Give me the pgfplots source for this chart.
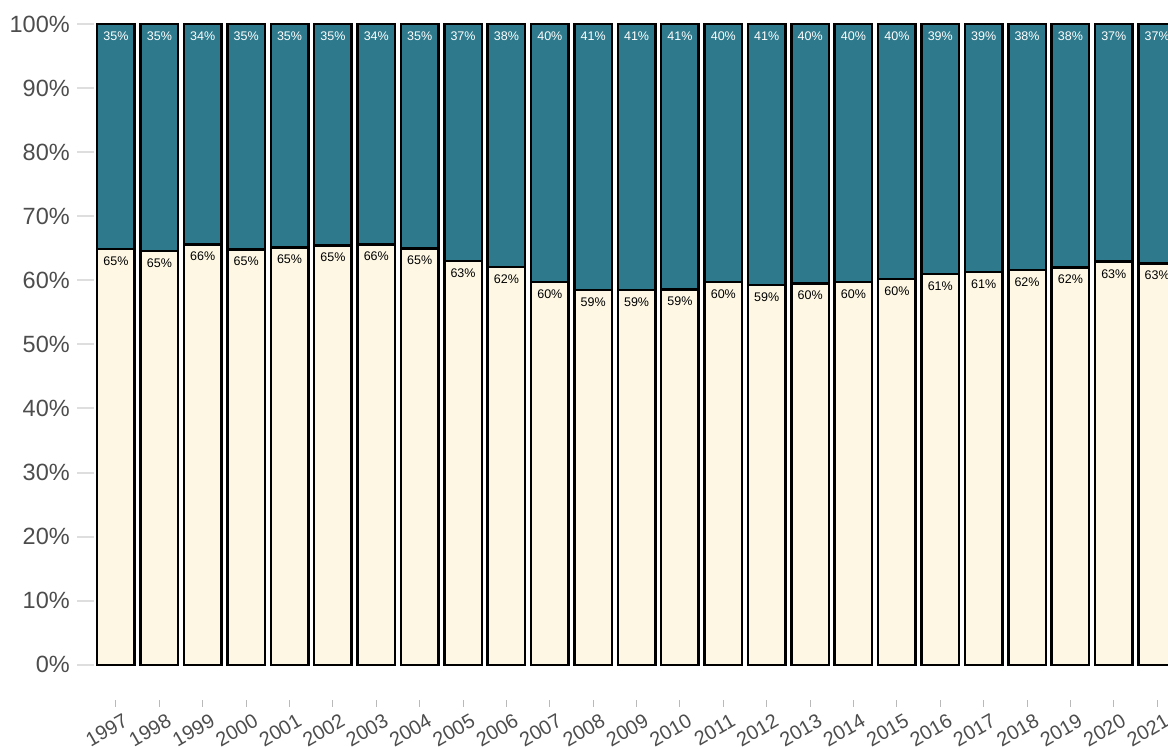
\documentclass[border=0pt]{standalone}
\usepackage{pgfplots}
\usepackage{pgfplotstable}
\pgfplotsset{compat=1.18}
\usepackage{fontspec}
\setmainfont{Liberation Sans}
\definecolor{cream}{RGB}{253,247,228}
\definecolor{tealbar}{RGB}{46,122,140}
\definecolor{ticklab}{RGB}{77,77,77}
\definecolor{tickline}{RGB}{222,222,222}
\pgfplotstableread{
x bot top tot lb lt
0 64.9 35.1 100 65 35
1 64.6 35.4 100 65 35
2 65.6 34.4 100 66 34
3 64.8 35.2 100 65 35
4 65.1 34.9 100 65 35
5 65.4 34.6 100 65 35
6 65.6 34.4 100 66 34
7 65.0 35.0 100 65 35
8 63.0 37.0 100 63 37
9 62.1 37.9 100 62 38
10 59.7 40.3 100 60 40
11 58.5 41.5 100 59 41
12 58.5 41.5 100 59 41
13 58.6 41.4 100 59 41
14 59.7 40.3 100 60 40
15 59.3 40.7 100 59 41
16 59.5 40.5 100 60 40
17 59.7 40.3 100 60 40
18 60.2 39.8 100 60 40
19 61.0 39.0 100 61 39
20 61.3 38.7 100 61 39
21 61.6 38.4 100 62 38
22 62.0 38.0 100 62 38
23 62.9 37.1 100 63 37
24 62.6 37.4 100 63 37
}\data
\pgfplotsset{
  frame/.style={at={(94.3pt,49pt)}, anchor=south west,
    scale only axis, width=1073.7pt, height=676pt,
    xmin=-0.5, xmax=24.25, ymin=-5.5, ymax=100, clip=false},
}
\begin{document}
\begin{tikzpicture}
\path[use as bounding box] (0,0) rectangle (1168pt,749pt);
\begin{axis}[
  frame,
  ybar stacked, bar width=37.5pt,
  axis line style={draw=none},
  xtick={0,...,24},
  xticklabels={1997,1998,1999,2000,2001,2002,2003,2004,2005,2006,2007,2008,2009,2010,2011,2012,2013,2014,2015,2016,2017,2018,2019,2020,2021},
  ytick={0,10,...,100},
  minor ytick={0,10,...,100},
  yticklabels={0\%,10\%,20\%,30\%,40\%,50\%,60\%,70\%,80\%,90\%,100\%},
  xtick pos=bottom, ytick pos=left,
  tick align=outside,
  major tick length=7pt,
  minor tick length=17pt,
  every major x tick/.style={draw=gray!55, line width=1pt},
  every major y tick/.style={draw=none},
  every minor y tick/.style={draw=tickline, line width=2pt},
  yticklabel style={font=\fontsize{23.5}{26}\selectfont, text=ticklab, xshift=-14pt},
  xticklabel style={font=\fontsize{20}{24}\selectfont, text=ticklab, rotate=30, anchor=north east, xshift=6pt, yshift=-5pt},
]
\addplot[fill=cream, draw=black, line width=2.5pt] table[x=x, y=bot] {\data};
\addplot[fill=tealbar, draw=black, line width=2.5pt] table[x=x, y=top] {\data};
\end{axis}
\begin{axis}[frame, hide axis]
\addplot[draw=none, mark=none,
  point meta=explicit symbolic,
  nodes near coords={\pgfplotspointmeta\%},
  every node near coord/.append style={font=\fontsize{12.5}{14}\selectfont, text=black, anchor=center, yshift=-12pt}]
  table[x=x, y=bot, meta=lb] {\data};
\addplot[draw=none, mark=none,
  point meta=explicit symbolic,
  nodes near coords={\pgfplotspointmeta\%},
  every node near coord/.append style={font=\fontsize{12.5}{14}\selectfont, text=white, anchor=center, yshift=-12pt}]
  table[x=x, y=tot, meta=lt] {\data};
\end{axis}
\end{tikzpicture}
\end{document}
